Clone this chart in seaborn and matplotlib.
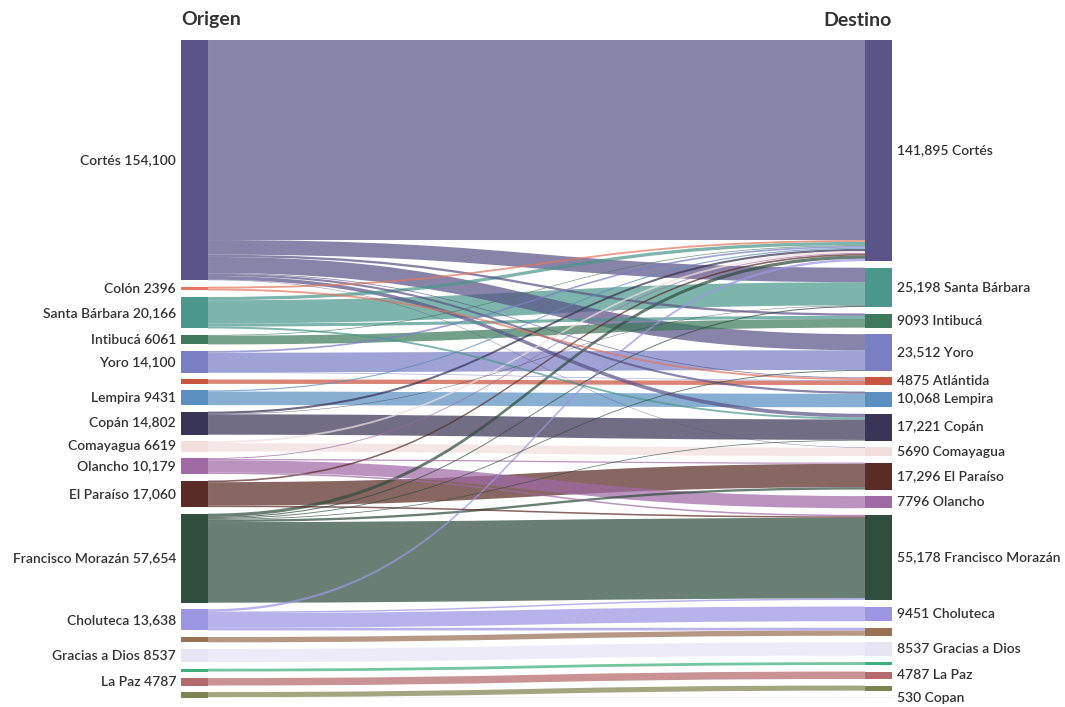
import matplotlib
matplotlib.use("Agg")
import matplotlib.pyplot as plt
import seaborn as sns
from matplotlib.path import Path
from matplotlib.patches import PathPatch, Rectangle

# left column (origin), top to bottom
origins = ["Cortés", "Colón", "Santa Bárbara", "Intibucá", "Yoro", "Atlántida",
           "Lempira", "Copán", "Comayagua", "Olancho", "El Paraíso",
           "Francisco Morazán", "Choluteca", "Valle", "Gracias a Dios",
           "Islas de la Bahía", "La Paz", "Ocotepeque"]
origin_totals = [154100, 2396, 20166, 6061, 14100, 2797, 9431, 14802, 6619,
                 10179, 17060, 57654, 13638, 3400, 8537, 1800, 4787, 3800]
origin_labeled = [True, True, True, True, True, False, True, True, True,
                  True, True, True, True, False, True, False, True, False]

# right column (destination), top to bottom
destinations = ["Cortés", "Santa Bárbara", "Intibucá", "Yoro", "Atlántida",
                "Lempira", "Copán", "Comayagua", "El Paraíso", "Olancho",
                "Francisco Morazán", "Choluteca", "Valle", "Gracias a Dios",
                "Islas de la Bahía", "La Paz", "Ocotepeque", "Copan"]
destination_totals = [141895, 25198, 9093, 23512, 4875, 10068, 17221, 5690,
                      17296, 7796, 55178, 9451, 5130, 8537, 1800, 4787, 3270, 530]
destination_labeled = [True, True, True, True, True, True, True, True, True,
                       True, True, True, False, True, False, True, False, True]

# flows: origin -> destination
flow_src = ["Cortés", "Santa Bárbara", "Intibucá", "Yoro", "Atlántida", "Lempira",
            "Copán", "Comayagua", "Olancho", "El Paraíso", "Francisco Morazán",
            "Choluteca", "Valle", "Gracias a Dios", "Islas de la Bahía", "La Paz",
            "Ocotepeque",
            "Cortés", "Cortés", "Cortés", "Cortés", "Cortés", "Cortés", "Cortés",
            "Colón", "Colón", "Santa Bárbara", "Santa Bárbara", "Santa Bárbara",
            "Intibucá", "Yoro", "Yoro", "Lempira", "Copán", "Copán",
            "Comayagua", "Olancho", "Olancho", "Olancho", "El Paraíso", "El Paraíso",
            "Francisco Morazán", "Francisco Morazán", "Francisco Morazán",
            "Francisco Morazán", "Francisco Morazán",
            "Choluteca", "Choluteca", "Choluteca", "Ocotepeque"]
flow_dst = ["Cortés", "Santa Bárbara", "Intibucá", "Yoro", "Atlántida", "Lempira",
            "Copán", "Comayagua", "Olancho", "El Paraíso", "Francisco Morazán",
            "Choluteca", "Valle", "Gracias a Dios", "Islas de la Bahía", "La Paz",
            "Ocotepeque",
            "Santa Bárbara", "Yoro", "Copán", "Atlántida", "Lempira", "Intibucá", "Comayagua",
            "Cortés", "Atlántida", "Cortés", "Intibucá", "Copán",
            "Cortés", "Cortés", "Atlántida", "Cortés", "Cortés", "Santa Bárbara",
            "Cortés", "Cortés", "El Paraíso", "Francisco Morazán", "Cortés",
            "Francisco Morazán",
            "Cortés", "El Paraíso", "Santa Bárbara", "Yoro", "Copán",
            "Cortés", "Francisco Morazán", "Valle", "Copan"]
flow_val = [128349, 14866, 5593, 12612, 2797, 8668,
            13102, 5390, 7796, 14996, 51708,
            9451, 3400, 8537, 1800, 4787,
            3270,
            9332, 10300, 2419, 500, 1400, 1500, 300,
            1196, 1200, 2100, 2000, 1200,
            468, 1110, 378, 763, 1400, 300,
            1229, 600, 800, 983, 1064,
            1000,
            2116, 1500, 700, 600, 500,
            1500, 957, 1730, 530]

dept_colors = {
    "Cortés": "#5b5488", "Colón": "#e2785f", "Santa Bárbara": "#4b978b",
    "Intibucá": "#3e7a5b", "Yoro": "#7a7fc4", "Atlántida": "#c9543f",
    "Lempira": "#5a8fc0", "Copán": "#393556", "Comayagua": "#f3dede",
    "Olancho": "#a06aa5", "El Paraíso": "#5b2b25", "Francisco Morazán": "#2f4e3d",
    "Choluteca": "#9c96e2", "Valle": "#9a7256", "Gracias a Dios": "#e7e4f4",
    "Islas de la Bahía": "#3fb07c", "La Paz": "#b46a6c", "Ocotepeque": "#7e8451",
    "Copan": "#eef0f2",
}

sns.set_theme(style="white")
plt.rcParams["font.family"] = ["Lato", "DejaVu Sans"]

fig = plt.figure(figsize=(10.65, 7.07), dpi=100)
ax = fig.add_axes([181 / 1065, 9 / 707, 711 / 1065, 658 / 707])

gap = 4200
node_w = 0.038


def stack(names, totals):
    pos, y = {}, 0
    for n, t in zip(names, totals):
        pos[n] = [y, y + t]
        y += t + gap
    return pos


# node sizes from the flows themselves
out_sum = {n: 0 for n in origins}
in_sum = {n: 0 for n in destinations}
for s, d, v in zip(flow_src, flow_dst, flow_val):
    out_sum[s] += v
    in_sum[d] += v
left = stack(origins, [out_sum[n] for n in origins])
right = stack(destinations, [in_sum[n] for n in destinations])
y_max = max(left[origins[-1]][1], right[destinations[-1]][1])

# order links within each node
flows = list(zip(flow_src, flow_dst, flow_val))
src_cursor = {n: left[n][0] for n in origins}
dst_cursor = {n: right[n][0] for n in destinations}
src_pos, dst_pos = {}, {}
for f in sorted(flows, key=lambda f: (origins.index(f[0]), destinations.index(f[1]))):
    src_pos[f] = (src_cursor[f[0]], src_cursor[f[0]] + f[2])
    src_cursor[f[0]] += f[2]
for f in sorted(flows, key=lambda f: (destinations.index(f[1]), origins.index(f[0]))):
    dst_pos[f] = (dst_cursor[f[1]], dst_cursor[f[1]] + f[2])
    dst_cursor[f[1]] += f[2]

x0, x1 = node_w, 1 - node_w
xm = 0.5
for f in sorted(flows, key=lambda f: -f[2]):
    s0, s1 = src_pos[f]
    t0, t1 = dst_pos[f]
    verts = [(x0, s0), (xm, s0), (xm, t0), (x1, t0), (x1, t1),
             (xm, t1), (xm, s1), (x0, s1), (x0, s0)]
    codes = [Path.MOVETO, Path.CURVE4, Path.CURVE4, Path.CURVE4, Path.LINETO,
             Path.CURVE4, Path.CURVE4, Path.CURVE4, Path.CLOSEPOLY]
    color = dept_colors["Copan"] if f[1] == "Copan" else dept_colors[f[0]]
    ax.add_patch(PathPatch(Path(verts, codes), facecolor=color,
                           edgecolor="none", alpha=0.72))


def fmt(v):
    return f"{v:,}" if v >= 10000 else str(v)


for n, t, lab in zip(origins, origin_totals, origin_labeled):
    a, b = left[n]
    ax.add_patch(Rectangle((0, a), node_w, b - a, facecolor=dept_colors[n], edgecolor="none"))
    if lab:
        ax.text(-0.007, (a + b) / 2, f"{n} {fmt(t)}", ha="right", va="center",
                fontsize=10, color="#333333", fontweight="semibold")

for n, t, lab in zip(destinations, destination_totals, destination_labeled):
    a, b = right[n]
    ax.add_patch(Rectangle((1 - node_w, a), node_w, b - a, facecolor=dept_colors[n],
                           edgecolor="none"))
    if lab:
        ax.text(1.007, (a + b) / 2, f"{fmt(t)} {n}", ha="left", va="center",
                fontsize=10, color="#333333", fontweight="semibold")

ax.set_xlim(0, 1)
ax.set_ylim(y_max, 0)
ax.axis("off")
sns.despine(ax=ax, left=True, bottom=True)

fig.text(181 / 1065, 1 - 20 / 707, "Origen", ha="left", va="center",
         fontsize=14, fontweight="bold", color="#333333")
fig.text(892 / 1065, 1 - 20 / 707, "Destino", ha="right", va="center",
         fontsize=14, fontweight="bold", color="#333333")

fig.savefig("out.png", dpi=100, facecolor="white")
